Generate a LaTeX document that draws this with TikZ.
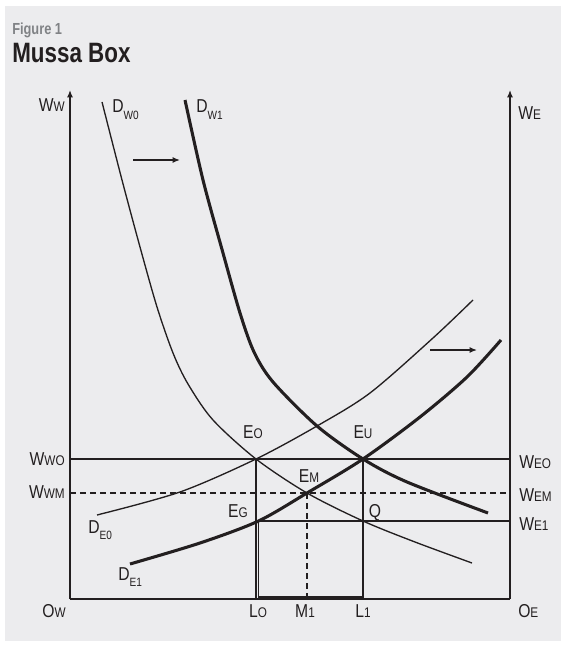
\documentclass[tikz,border=0pt]{standalone}
\usepackage{fontspec}
\setmainfont{Liberation Sans}[FakeStretch=0.84]
\newfontfamily\headfont{Liberation Sans}[FakeStretch=0.8]
\usetikzlibrary{arrows.meta,calc,positioning}
\definecolor{ink}{HTML}{231F20}
\definecolor{panel}{HTML}{ECECEE}
\definecolor{muted}{HTML}{808285}
\newcommand{\wlab}[2]{#1{\fontsize{10.5}{10.5}\selectfont #2}}
\newcommand{\dlab}[2]{#1\raisebox{-5pt}{\fontsize{9}{9}\selectfont #2}}

\begin{document}
\begin{tikzpicture}[x=0.75pt,y=-0.75pt,>={Latex[length=5.5pt,width=4.5pt]},
  thin curve/.style={ink,line width=1pt,line join=round},
  thick curve/.style={ink,line width=2.3pt,line join=round},
  guide/.style={ink,line width=0.9pt},
  lbl/.style={font=\fontsize{14}{14}\selectfont,text=ink,inner sep=0pt}]
\useasboundingbox (0,0) rectangle (564,645);
\fill[white] (0,0) rectangle (564,645);
\fill[panel] (5,6) rectangle (561,641);
\node[anchor=base west,inner sep=0pt,font=\headfont\bfseries\fontsize{12}{12}\selectfont,text=muted] (fig) at (12,35) {Figure 1};
\node[anchor=base west,inner sep=0pt,font=\headfont\bfseries\fontsize{21}{21}\selectfont,text=ink] (title) at (12,63) {Mussa Box};

% box corners and equilibrium points
\coordinate (ow) at (70,599);
\coordinate (oe) at (510,599);
\coordinate (wtop) at (70,90);
\coordinate (etop) at (510,90);
\coordinate (e0) at (256,459);
\coordinate (eu) at (363,459);
\coordinate (em) at (307,493);
\coordinate (eg) at (258.5,521);
\coordinate (q) at (363,521);
\coordinate (b0) at (258.5,597.5);
\coordinate (b1) at (363,597.5);

% guide lines
\draw[guide] (e0 -| ow) -- (e0 -| oe);
\draw[guide,dash pattern=on 4.5pt off 3pt] (em -| ow) -- (em -| oe);
\draw[guide] (eg) -- (eg -| oe);
\draw[guide] (e0) -- (e0 |- ow);
\draw[guide] (eg) -- (eg |- ow);
\draw[guide] (eu) -- (eu |- ow);
\draw[guide,dash pattern=on 4.5pt off 3pt] (em) -- (em |- ow);

% axes
\draw[ink,line width=1pt,->] (ow) -- (wtop);
\draw[ink,line width=1pt] (ow) -- (oe);
\draw[ink,line width=1pt,->] (oe) -- (etop);
\draw[ink,line width=2.8pt] (b0) -- (b1);

% demand curves
\draw[thin curve] plot[smooth] coordinates {(102,102) (122,180) (140,247) (157,307) (173,353) (188,384) (213,420) (256,459) (307,493) (363,521) (415,542) (472,563)};
\draw[thick curve] plot[smooth] coordinates {(185,100) (203,180) (223,253) (240,313) (254,352) (273,382) (317,426) (363,459) (407,482) (488,513)};
\draw[thin curve] plot[smooth] coordinates {(97,515) (180,492) (256,459) (317,426) (370,393) (433,338) (473,300)};
\draw[thick curve] plot[smooth] coordinates {(130,564) (200,543) (258.5,521) (307,493) (363,459) (420,417) (467,377) (501,340)};

% shift arrows
\coordinate (sa1) at (133,160);
\coordinate (sb1) at (180,160);
\coordinate (sa2) at (430,350);
\coordinate (sb2) at (477,350);
\draw[ink,line width=1pt,->] (sa1) -- (sb1);
\draw[ink,line width=1pt,->] (sa2) -- (sb2);

% labels
\node[lbl,anchor=base east] (ww) at (65,112) {\wlab{W}{W}};
\node[lbl,anchor=base west] (we) at (518,120) {\wlab{W}{E}};
\node[lbl,anchor=base west] (dw0) at (112,113) {\dlab{D}{W0}};
\node[lbl,anchor=base west] (dw1) at (196,113) {\dlab{D}{W1}};
\node[lbl,anchor=base west] (de0) at (88,533) {\dlab{D}{E0}};
\node[lbl,anchor=base west] (de1) at (118,580) {\dlab{D}{E1}};
\node[lbl,anchor=base east] (wwo) at (65,465) {\wlab{W}{WO}};
\node[lbl,anchor=base east] (wwm) at (65,498) {\wlab{W}{WM}};
\node[lbl,anchor=base west] (weo) at (519,468) {\wlab{W}{EO}};
\node[lbl,anchor=base west] (wem) at (519,501) {\wlab{W}{EM}};
\node[lbl,anchor=base west] (we1) at (519,530) {\wlab{W}{E1}};
\node[lbl,anchor=base] (owl) at (54,617) {\wlab{O}{W}};
\node[lbl,anchor=base west] (oel) at (518,617) {\wlab{O}{E}};
\node[lbl,anchor=base] (l0l) at (258,617) {\wlab{L}{O}};
\node[lbl,anchor=base] (m1l) at (305,617) {\wlab{M}{1}};
\node[lbl,anchor=base] (l1l) at (363,617) {\wlab{L}{1}};
\node[lbl,anchor=base] (e0l) at (253,438) {\wlab{E}{O}};
\node[lbl,anchor=base] (eul) at (363,438) {\wlab{E}{U}};
\node[lbl,anchor=base] (eml) at (309,482) {\wlab{E}{M}};
\node[lbl,anchor=base] (egl) at (238,517) {\wlab{E}{G}};
\node[lbl,anchor=base] (ql) at (375,517) {Q};
\end{tikzpicture}
\end{document}
